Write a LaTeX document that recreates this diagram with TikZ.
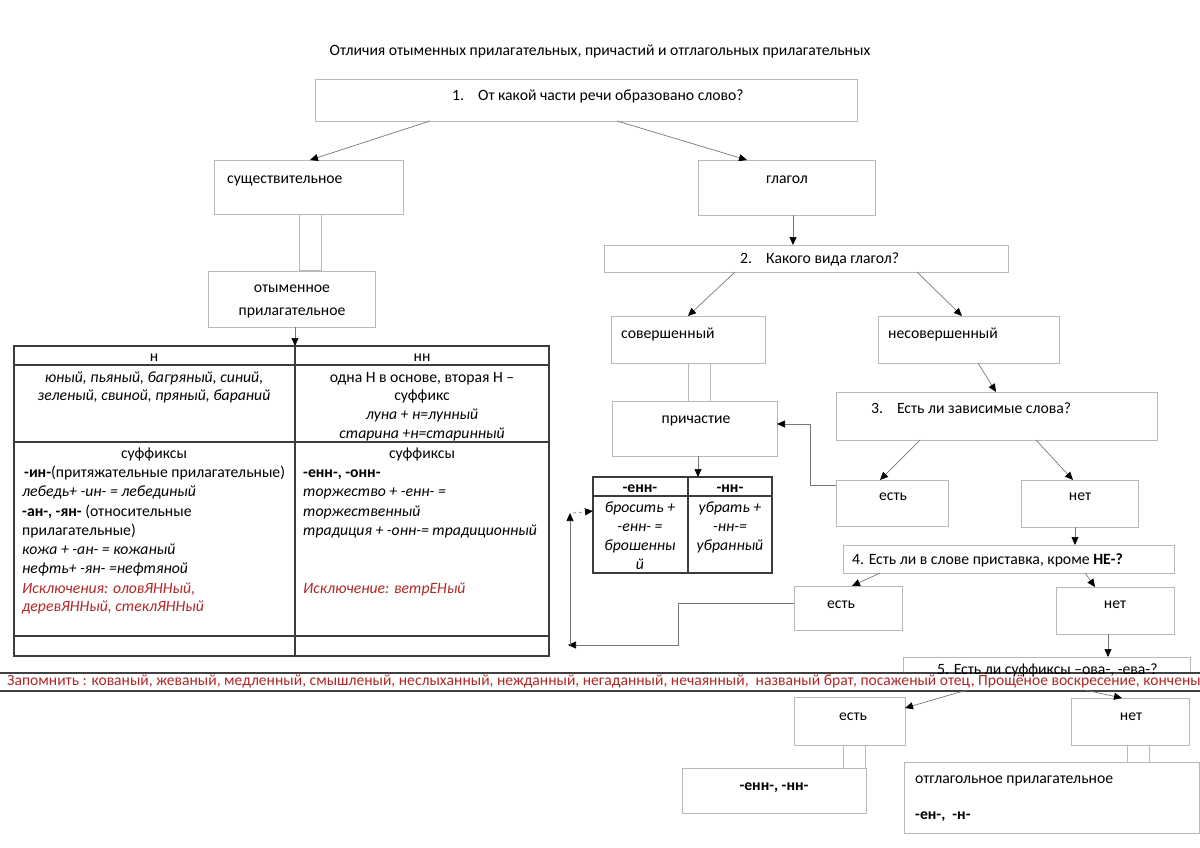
\documentclass[tikz,border=0pt]{standalone}
\usepackage{fontspec}
\setmainfont{Carlito}
\usetikzlibrary{arrows.meta}
\definecolor{rd}{RGB}{175,40,40}
\definecolor{boxc}{RGB}{185,185,185}
\definecolor{linec}{RGB}{120,120,120}
\definecolor{tabc}{RGB}{60,60,60}
\newcommand\mybox[5]{\node[box, anchor=north west, minimum width={(#4-#2)*1pt}, minimum height={(#5-#3)*1pt}] (#1) at (#2,#3) {};}
\newcommand\fs{\fontsize{15.7}{19}\selectfont}
\tikzset{
 box/.style={draw=boxc, line width=0.8pt, inner sep=0pt, outer sep=0pt},
 tbl/.style={draw=tabc, line width=1.1pt, inner sep=0pt, outer sep=0pt},
 txt/.style={inner sep=0pt, font=\fs, text height=14.5pt, text depth=3pt},
 itxt/.style={txt, font=\fs\itshape},
 rdtxt/.style={txt, text=rd, font=\fs\itshape},
 arr/.style={draw=linec, line width=0.7pt, -{Triangle[length=8pt,width=7pt,color=black]}}
}
\begin{document}
\begin{tikzpicture}[x=1pt,y=-1pt]
\path[use as bounding box] (0,0) rectangle (1200,848);
\fill[white] (0,0) rectangle (1200,848);
\clip (0,0) rectangle (1200,848);

% title
\node[txt] (title) at (600,50) {Отличия отыменных прилагательных, причастий и отглагольных прилагательных};

% boxes
\mybox{q1}{315}{79}{857}{121}
\mybox{sush}{214}{160}{403}{214}
\mybox{glag}{698}{160}{875}{215}
\mybox{bar1}{299}{214}{321}{270}
\mybox{otym}{208}{271}{375}{327}
\mybox{q2}{604}{245}{1008}{272}
\mybox{sov}{611}{316}{765}{363}
\mybox{nesov}{878}{316}{1059}{363}
\mybox{bar2}{688}{363}{710}{401}
\mybox{prich}{612}{401}{777}{456}
\mybox{q3}{836}{392}{1157}{440}
\mybox{est3}{836}{480}{948}{526}
\mybox{net3}{1021}{480}{1138}{527}
\mybox{q4}{843}{545}{1174}{573}
\mybox{est4}{794}{586}{902}{630}
\mybox{net4}{1056}{587}{1174}{634}
\mybox{q5}{903}{657}{1190}{690}
\mybox{est5}{794}{697}{905}{745}
\mybox{net5}{1071}{698}{1189}{745}
\mybox{bar3}{843}{745}{865}{768}
\mybox{bar4}{1127}{745}{1149}{762}
\mybox{enn}{682}{768}{866}{813}
\mybox{otgl}{904}{762}{1199}{833}

% box texts
\node[txt, anchor=west] (t-q1) at (452,95) {1.\hspace{14pt}От какой части речи образовано слово?};
\node[txt, anchor=west] (t-sush) at (227,178) {существительное};
\node[txt] (t-glag) at (787,178) {глагол};
\node[txt] (t-otym1) at (292,287) {отыменное};
\node[txt] (t-otym2) at (292,310) {прилагательное};
\node[txt, anchor=west] (t-q2) at (740,258) {2.\hspace{14pt}Какого вида глагол?};
\node[txt, anchor=west] (t-sov) at (621,333) {совершенный};
\node[txt, anchor=west] (t-nesov) at (888,333) {несовершенный};
\node[txt] (t-prich) at (696,418) {причастие};
\node[txt, anchor=west] (t-q3) at (871,408) {3.\hspace{14pt}Есть ли зависимые слова?};
\node[txt] (t-est3) at (893,495) {есть};
\node[txt] (t-net3) at (1080,495) {нет};
\node[txt, anchor=west] (t-q4) at (852,559) {4. Есть ли в слове приставка, кроме \textbf{НЕ-?}};
\node[txt] (t-est4) at (841,603) {есть};
\node[txt] (t-net4) at (1115,603) {нет};
\node[txt] (t-est5) at (853,715) {есть};
\node[txt] (t-net5) at (1131,715) {нет};
\node[txt] (t-enn) at (774,785) {\textbf{-енн-, -нн-}};
\node[txt, anchor=west] (t-otgl1) at (915,778) {отглагольное прилагательное};
\node[txt, anchor=west] (t-otgl2) at (915,814) {\textbf{-ен-,\ \ -н-}};

% left table
\node[tbl, anchor=north west, minimum width=535pt, minimum height=310pt] (tabA) at (14,346) {};
\draw[tbl] (tabA.north west) ++(0,19) -- ++(535,0);
\draw[tbl] (tabA.north west) ++(0,96) -- ++(535,0);
\draw[tbl] (tabA.north west) ++(0,290) -- ++(535,0);
\draw[tbl] ([xshift=281pt]tabA.north west) -- ([xshift=281pt]tabA.south west);
\node[txt] (a-h1) at (154,356) {н};
\node[txt] (a-h2) at (422,356) {нн};
\node[itxt] (a-a1) at (154,377) {юный, пьяный, багряный, синий,};
\node[itxt] (a-a2) at (154,395) {зеленый, свиной, пряный, бараний};
\node[txt] (a-b1) at (422,377) {одна Н в основе, вторая Н –};
\node[txt] (a-b2) at (422,395) {суффикс};
\node[itxt] (a-b3) at (422,414) {луна + н=лунный};
\node[itxt] (a-b4) at (422,433) {старина +н=старинный};
\node[txt] (a-c0) at (154,453) {суффиксы};
\node[txt, anchor=west] (a-c1) at (24,472) {\textbf{-ин-}(притяжательные прилагательные)};
\node[itxt, anchor=west] (a-c2) at (22,491) {лебедь+ -ин- = лебединый};
\node[txt, anchor=west] (a-c3) at (22,511) {\textbf{-ан-, -ян-} (относительные};
\node[txt, anchor=west] (a-c4) at (22,530) {прилагательные)};
\node[itxt, anchor=west] (a-c5) at (22,549) {кожа + -ан- = кожаный};
\node[itxt, anchor=west] (a-c6) at (22,568) {нефть+ -ян- =нефтяной};
\node[rdtxt, anchor=west] (a-c7) at (22,588) {Исключения: оловЯННый,};
\node[rdtxt, anchor=west] (a-c8) at (22,606) {деревЯННый, стеклЯННый};
\node[txt] (a-d0) at (422,453) {суффиксы};
\node[txt, anchor=west] (a-d1) at (303,472) {\textbf{-енн-, -онн-}};
\node[itxt, anchor=west] (a-d2) at (303,491) {торжество + -енн- =};
\node[itxt, anchor=west] (a-d3) at (303,511) {торжественный};
\node[itxt, anchor=west] (a-d4) at (303,530) {традиция + -онн-= традиционный};
\node[rdtxt, anchor=west] (a-d5) at (303,588) {Исключение: ветрЕНый};

% small table
\node[tbl, anchor=north west, minimum width=179pt, minimum height=96pt] (tabB) at (593,477) {};
\draw[tbl] (tabB.north west) ++(0,19) -- ++(179,0);
\draw[tbl] ([xshift=95pt]tabB.north west) -- ([xshift=95pt]tabB.south west);
\node[txt] (b-h1) at (640,487) {\textbf{-енн-}};
\node[txt] (b-h2) at (730,487) {\textbf{-нн-}};
\node[itxt] (b-a1) at (640,507) {бросить +};
\node[itxt] (b-a2) at (640,526) {-енн- =};
\node[itxt] (b-a3) at (640,545) {брошенны};
\node[itxt] (b-a4) at (640,564) {й};
\node[itxt] (b-b1) at (730,507) {убрать +};
\node[itxt] (b-b2) at (730,526) {-нн-=};
\node[itxt] (b-b3) at (730,545) {убранный};

% arrows
\draw[arr] ([xshift=115pt]q1.south west) -- ([xshift=96pt]sush.north west);
\draw[arr] ([xshift=302pt]q1.south west) -- ([xshift=49pt]glag.north west);
\draw[arr] ([xshift=95pt]glag.south west) -- ([xshift=189pt]q2.north west);
\draw[arr] ([xshift=131pt]q2.south west) -- ([xshift=77pt]sov.north west);
\draw[arr] ([xshift=313pt]q2.south west) -- ([xshift=84pt]nesov.north west);
\draw[arr] ([xshift=100pt]nesov.south west) -- ([xshift=160pt]q3.north west);
\draw[arr] ([xshift=84pt]q3.south west) -- ([xshift=44pt]est3.north west);
\draw[arr] ([xshift=200pt]q3.south west) -- ([xshift=52pt]net3.north west);
\draw[arr] ([xshift=54pt]net3.south west) -- ([xshift=232pt]q4.north west);
\draw[arr] ([xshift=37pt]q4.south west) -- ([xshift=58pt]est4.north west);
\draw[arr] ([xshift=242pt]q4.south west) -- ([xshift=39pt]net4.north west);
\draw[arr] ([xshift=52pt]net4.south west) -- ([xshift=205pt]q5.north west);
\draw[arr] ([xshift=87pt]otym.south west) -- ([xshift=281pt]tabA.north west);
\draw[arr] ([xshift=86pt]prich.south west) -- ([xshift=105pt]tabB.north west);
\draw[arr] ([yshift=-5pt]est3.north west) -- ++(-26,0) |- ([yshift=-23pt]prich.north east);
\coordinate (lc) at (570,645);
\coordinate (uc) at (570,513);
\draw[arr] ([yshift=-17pt]est4.north west) -- ++(-116,0) -- ++(0,42) -- ([xshift=-2pt]lc);
\draw[arr] (lc) -- (uc);
\draw[arr, dashed] ([xshift=3pt]uc) -- ([yshift=-34pt]tabB.north west);

% banner
\node[draw=black!75, line width=1.5pt, fill=white, anchor=north west, minimum width=1230pt, minimum height=18pt, inner sep=0pt] (band) at (-10,672) {};
\node[txt, anchor=west] (t-q5) at (937,669) {5. Есть ли суффиксы –ова-, -ева-?};
\node[txt, anchor=west, text=rd, font=\fontsize{15.6}{19}\selectfont] (t-band) at (7,680) {Запомнить : кованый, жеваный, медленный, смышленый, неслыханный, нежданный, негаданный, нечаянный,\ \ названый брат, посаженый отец, Прощёное воскресение, конченый};
\draw[arr] ([xshift=64pt]q5.south west) -- ([yshift=-11pt]est5.north east);
\draw[arr] ([xshift=182pt]q5.south west) -- ([xshift=51pt]net5.north west);
\end{tikzpicture}
\end{document}
